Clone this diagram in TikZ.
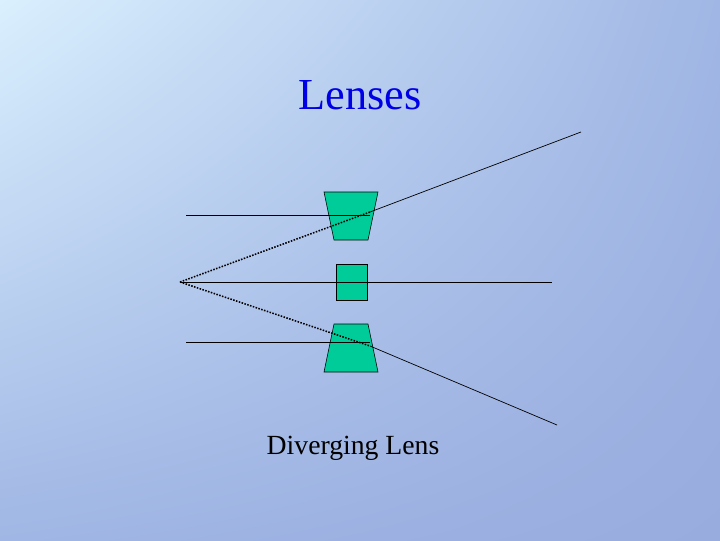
\documentclass[tikz,border=0pt]{standalone}
\usepackage{fontspec}
\setmainfont{Liberation Serif}
\usetikzlibrary{shadings}
\begin{document}
\begin{tikzpicture}[x=0.025cm,y=-0.025cm,
  lens/.style={fill=lensgreen,draw=black,line width=0.4pt},
  ray/.style={draw=black,line width=0.5pt},
  virt/.style={draw=black,line width=1.1pt,densely dotted}]
\definecolor{lensgreen}{RGB}{0,204,153}
\definecolor{bgtl}{RGB}{218,240,254}
\definecolor{bgbr}{RGB}{152,172,222}
\definecolor{bgmid}{RGB}{178,200,238}
\definecolor{bgbl}{RGB}{160,182,228}
\definecolor{titleblue}{RGB}{0,0,230}
\useasboundingbox (0,0) rectangle (720,540);
\shade[upper left=bgtl,upper right=bgbl,lower left=bgbl,lower right=bgbr] (0,0) rectangle (720,540);
\node[font=\fontsize{31.5}{36}\selectfont,text=titleblue] (title) at (360,95) {Lenses};
\node[font=\fontsize{19.7}{24}\selectfont] (label) at (353,448) {Diverging Lens};
\draw[lens] (324,192) -- (378,192) -- (368,240) -- (334,240) -- cycle;
\draw[lens] (334,324) -- (368,324) -- (378,372) -- (324,372) -- cycle;
\draw[lens] (336,264) rectangle (367,300);
\coordinate (F) at (180,282);
\coordinate (t0) at (186,215);
\coordinate (t1) at (370,215);
\coordinate (t2) at (370,212);
\coordinate (t3) at (581,132);
\coordinate (m1) at (552,282);
\coordinate (b0) at (186,342);
\coordinate (b1) at (370,342);
\coordinate (b2) at (370,346);
\coordinate (b3) at (557,425);
\draw[ray] (t0) -- (t1);
\draw[virt] (F) -- (t2);
\draw[ray] (t2) -- (t3);
\draw[ray] (F) -- (m1);
\draw[ray] (b0) -- (b1);
\draw[virt] (F) -- (b2);
\draw[ray] (b2) -- (b3);
\end{tikzpicture}
\end{document}
